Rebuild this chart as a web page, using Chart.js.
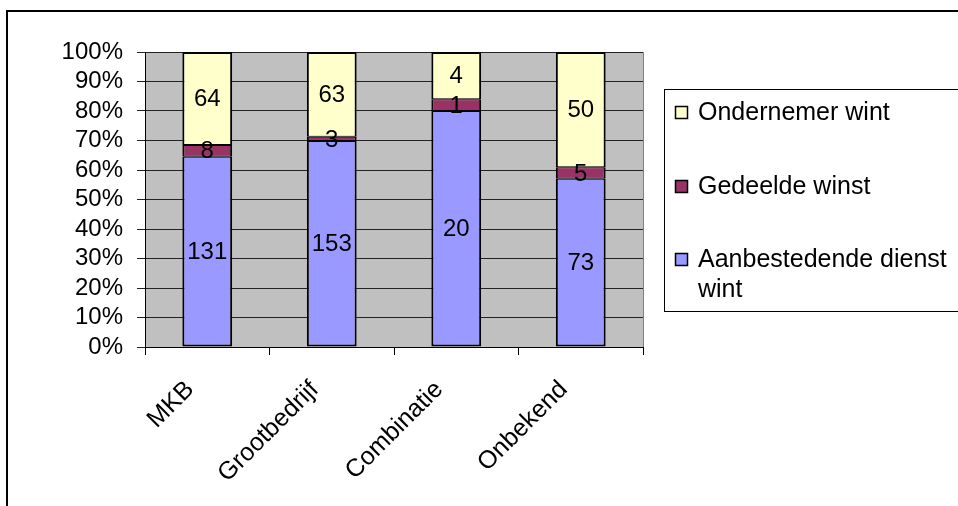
<!DOCTYPE html>
<html>
<head>
<meta charset="utf-8">
<script src="https://cdn.jsdelivr.net/npm/chart.js@4/dist/chart.umd.min.js"></script>
<style>
  html, body { margin: 0; padding: 0; background: #fff; }
  #wrap { width: 958px; height: 506px; }
</style>
</head>
<body>
<div id="wrap"><canvas id="chart" width="958" height="506"></canvas></div>
<script>
const categories = ['MKB', 'Grootbedrijf', 'Combinatie', 'Onbekend'];
const aanbestedendeWint = [131, 153, 20, 73];
const gedeeldeWinst = [8, 3, 1, 5];
const ondernemerWint = [64, 63, 4, 50];
const seriesNames = ['Aanbestedende dienst wint', 'Gedeelde winst', 'Ondernemer wint'];
const seriesColors = ['#9999FF', '#993366', '#FFFFCC'];
const yTicks = [0, 10, 20, 30, 40, 50, 60, 70, 80, 90, 100];

const FONT = "'Liberation Sans', Arial, sans-serif";
const rawSeries = [aanbestedendeWint, gedeeldeWinst, ondernemerWint];
const totals = categories.map((_, i) => rawSeries.reduce((s, arr) => s + arr[i], 0));
const toPct = arr => arr.map((v, i) => v / totals[i] * 100);

// grijze plotachtergrond + kader rond de hele grafiek
const backdrop = {
  id: 'backdrop',
  beforeDraw(chart) {
    const { ctx, chartArea: a } = chart;
    ctx.save();
    ctx.fillStyle = '#C0C0C0';
    ctx.fillRect(a.left, a.top, a.right - a.left, a.bottom - a.top);
    ctx.strokeStyle = '#808080';
    ctx.lineWidth = 1;
    ctx.beginPath();
    ctx.moveTo(a.right + 0.5, a.top);
    ctx.lineTo(a.right + 0.5, a.bottom);
    ctx.stroke();
    ctx.restore();
  },
  afterDraw(chart) {
    const ctx = chart.ctx;
    ctx.save();
    ctx.strokeStyle = '#000';
    ctx.lineWidth = 2;
    ctx.strokeRect(7, 11, 1000, 600);
    ctx.restore();
  }
};

// waarden in de balken
const valueLabels = {
  id: 'valueLabels',
  afterDatasetsDraw(chart) {
    const ctx = chart.ctx;
    ctx.save();
    ctx.font = '24px ' + FONT;
    ctx.fillStyle = '#000';
    ctx.textAlign = 'center';
    ctx.textBaseline = 'middle';
    chart.data.datasets.forEach((ds, di) => {
      chart.getDatasetMeta(di).data.forEach((el, i) => {
        const p = el.getCenterPoint();
        ctx.fillText(String(ds.raw[i]), p.x, p.y + 1);
      });
    });
    ctx.restore();
  }
};

// legenda rechts, omgekeerde volgorde zoals in Excel
const boxLegend = {
  id: 'boxLegend',
  afterDraw(chart) {
    const ctx = chart.ctx;
    const left = 664, top = 89, bottom = 311;
    ctx.save();
    ctx.fillStyle = '#fff';
    ctx.fillRect(left, top, 400, bottom - top);
    ctx.strokeStyle = '#000';
    ctx.lineWidth = 1;
    ctx.strokeRect(left + 0.5, top + 0.5, 400, bottom - top);
    ctx.font = '25px ' + FONT;
    ctx.textBaseline = 'middle';
    const rows = [112, 186, 259];
    const maxW = 958 - 698 - 4;
    [2, 1, 0].forEach((si, r) => {
      const y = rows[r];
      ctx.fillStyle = seriesColors[si];
      ctx.fillRect(675, y - 6, 12, 12);
      ctx.strokeStyle = '#000';
      ctx.lineWidth = 1.5;
      ctx.strokeRect(675.5, y - 5.5, 12, 12);
      // regel afbreken als de tekst niet past
      const words = seriesNames[si].split(' ');
      const lines = [];
      let cur = '';
      words.forEach(w => {
        const t = cur ? cur + ' ' + w : w;
        if (ctx.measureText(t).width > maxW && cur) { lines.push(cur); cur = w; } else cur = t;
      });
      lines.push(cur);
      ctx.fillStyle = '#000';
      lines.forEach((ln, k) => ctx.fillText(ln, 698, y + 1 + k * 30));
    });
    ctx.restore();
  }
};

const borderFor = si => ({
  left: 2, right: 2,
  bottom: si === 0 ? 2 : 1,
  top: si === rawSeries.length - 1 ? 2 : 1
});

const datasets = rawSeries.map((arr, si) => ({
  label: seriesNames[si],
  data: toPct(arr),
  raw: arr,
  backgroundColor: seriesColors[si],
  borderColor: '#000',
  borderWidth: borderFor(si),
  borderSkipped: false,
  barPercentage: 0.4,
  categoryPercentage: 1
}));

new Chart(document.getElementById('chart'), {
  type: 'bar',
  data: { labels: categories, datasets },
  plugins: [backdrop, valueLabels, boxLegend],
  options: {
    responsive: false,
    animation: false,
    devicePixelRatio: 1,
    layout: { padding: { left: 0, top: 52, right: 315, bottom: 0 } },
    plugins: { legend: { display: false }, tooltip: { enabled: false } },
    scales: {
      x: {
        stacked: true,
        grid: { offset: true, drawOnChartArea: false, color: '#000', tickLength: 8 },
        border: { color: '#000', width: 1 },
        ticks: {
          color: '#000', font: { family: FONT, size: 25 },
          maxRotation: 45, minRotation: 45, padding: 20, labelOffset: -17
        },
        afterFit: s => { s.height = 159; }
      },
      y: {
        stacked: true,
        min: 0,
        max: 100,
        afterBuildTicks: s => { s.ticks = yTicks.map(v => ({ value: v })); },
        grid: { color: '#222', lineWidth: 1, tickLength: 8 },
        border: { color: '#000', width: 1 },
        ticks: {
          color: '#000', font: { family: FONT, size: 24 }, padding: 14,
          autoSkip: false, callback: v => v + '%'
        },
        afterFit: s => { s.width = 145; }
      }
    }
  }
});
</script>
</body>
</html>
